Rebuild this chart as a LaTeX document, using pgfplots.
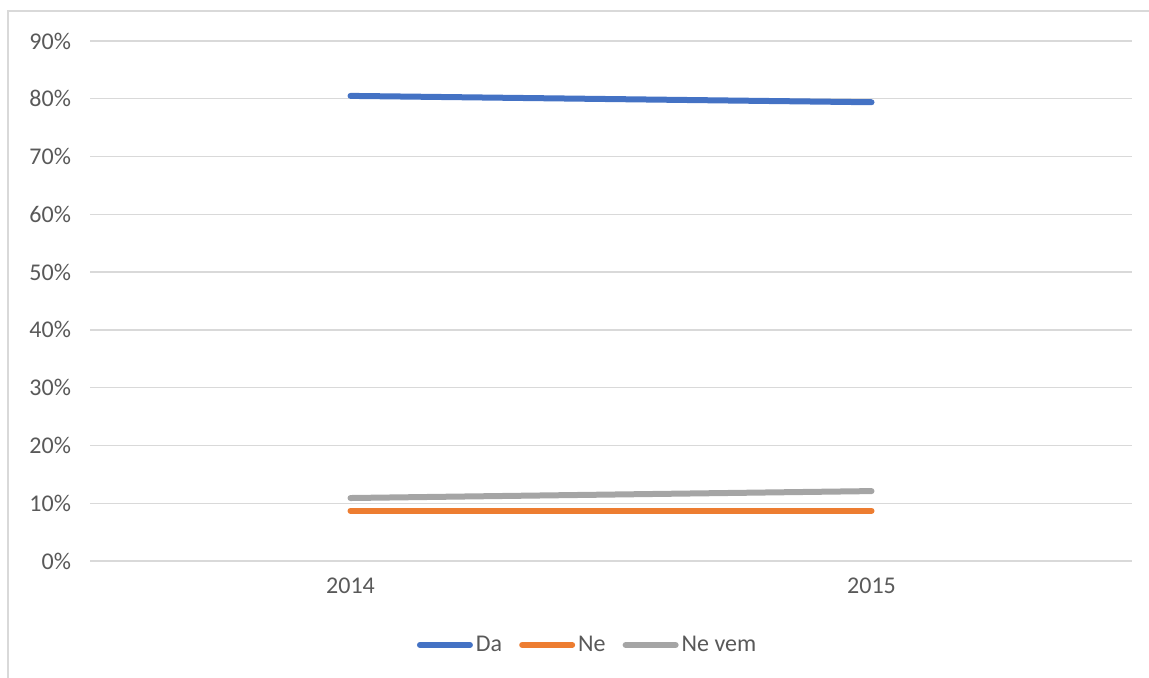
\documentclass[border=0pt]{standalone}
\usepackage{fontspec}
\setmainfont{Carlito}
\usepackage{pgfplots}
\pgfplotsset{compat=1.18}
\definecolor{daBlue}{HTML}{4472C4}
\definecolor{neOrange}{HTML}{ED7D31}
\definecolor{nevemGray}{HTML}{A5A5A5}
\definecolor{gridGray}{HTML}{D9D9D9}
\definecolor{labelGray}{HTML}{595959}

\begin{document}
\begin{tikzpicture}[x=0.5pt,y=0.5pt]
    \useasboundingbox (0,0) rectangle (1149,678);
    \draw[gridGray, line width=0.8pt] (8,0) -- (8,667) -- (1149,667);
    \begin{axis}[
        at={(45pt,58.5pt)}, anchor=south west,
        scale only axis,
        width=521pt, height=260pt,
        xmin=-0.5, xmax=1.5,
        ymin=0, ymax=90,
        xtick={0,1}, xticklabels={2014,2015},
        ytick={0,10,...,90},
        yticklabels={0\%,10\%,20\%,30\%,40\%,50\%,60\%,70\%,80\%,90\%},
        ymajorgrids=true,
        grid style={gridGray, line width=0.7pt},
        axis line style={draw=none},
        tick style={draw=none},
        tick label style={font=\fontsize{12}{14}\selectfont, text=labelGray},
        yticklabel style={xshift=-6pt},
        xticklabel style={yshift=-5pt},
        legend style={at={(0.478,-0.1615)}, anchor=center, draw=none,
            font=\fontsize{12}{14}\selectfont, text=labelGray,
            legend columns=3, inner sep=0pt,
            nodes={inner xsep=1.5pt},
            /tikz/every even column/.append style={column sep=7pt}},
        legend image code/.code={
            \draw[line width=3pt, line cap=round, #1] (1.5pt,0pt) -- (26.5pt,0pt);},
        legend cell align={left},
    ]
    \addplot[daBlue, line width=3pt, line cap=round] coordinates {(0,80.5) (1,79.4)};
    \addplot[neOrange, line width=3pt, line cap=round] coordinates {(0,8.7) (1,8.7)};
    \addplot[nevemGray, line width=3pt, line cap=round] coordinates {(0,10.9) (1,12.1)};
    \legend{Da, Ne, Ne vem}
    \end{axis}
\end{tikzpicture}
\end{document}
